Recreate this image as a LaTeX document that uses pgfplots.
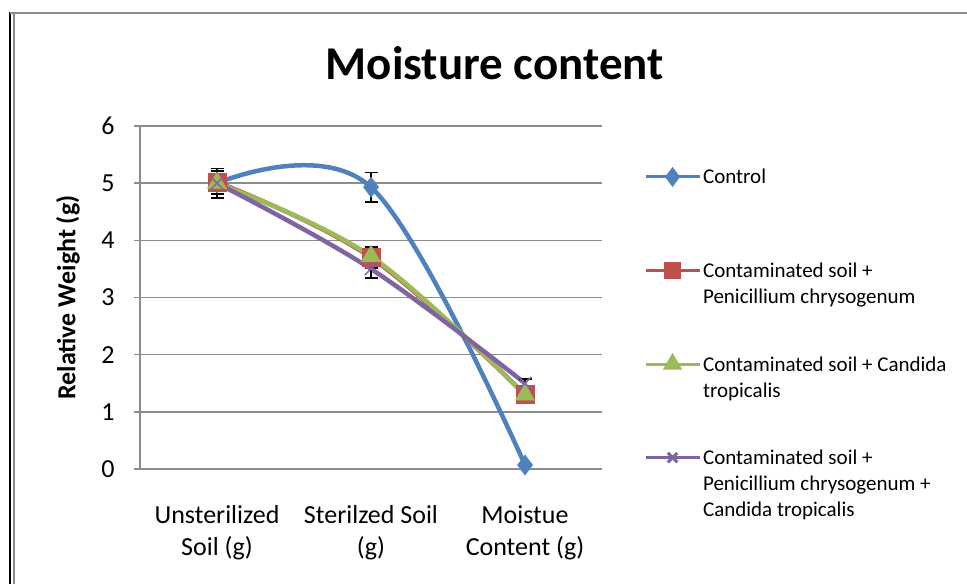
\documentclass[border=0pt]{standalone}
\usepackage{fontspec}
\setmainfont{Carlito}
\usepackage{pgfplots}
\pgfplotsset{compat=1.18}
\definecolor{cBlue}{HTML}{4F81BD}
\definecolor{cRed}{HTML}{C0504D}
\definecolor{cGreen}{HTML}{9BBB59}
\definecolor{cPurple}{HTML}{8064A2}
\definecolor{cGrid}{HTML}{8C8C8C}
\newcommand{\legbox}[1]{\vtop{\baselineskip=26bp #1}}
\begin{document}
\begin{tikzpicture}
\fill[white] (0,0) rectangle (967bp,584bp);
\useasboundingbox (0,0) rectangle (967bp,584bp);
\draw[black, line width=2bp] (10bp,0) -- (10bp,572bp);
\draw[cGrid, line width=2bp] (14bp,0) -- (14bp,571bp);
\draw[cGrid, line width=2bp] (10bp,571bp) -- (967bp,571bp);
\begin{axis}[
  at={(140bp,115bp)}, anchor=south west,
  width=462bp, height=343bp, scale only axis,
  xmin=-0.5, xmax=2.5, ymin=0, ymax=6,
  ytick={0,1,2,3,4,5,6},
  xtick={0,1,2},
  xticklabels={{Unsterilized\\Soil (g)},{Sterilzed Soil\\(g)},{Moistue\\Content (g)}},
  /pgf/number format/assume math mode=true,
  ticklabel style={font=\fontsize{26bp}{32bp}\selectfont},
  xticklabel style={align=center, yshift=-27bp},
  yticklabel style={xshift=-16bp},
  axis x line*=bottom, axis y line*=left,
  axis line style={cGrid, line width=1.5bp, -},
  ymajorgrids, grid style={cGrid, line width=1.5bp},
  tick align=outside, major tick length=6bp,
  ytick style={cGrid, line width=1.5bp},
  xtick style={draw=none},
  title={Moisture content},
  title style={font=\bfseries\fontsize{47bp}{56bp}\selectfont, at={(axis description cs:0.768,1)}, anchor=base, yshift=41bp},
  ylabel={Relative Weight (g)},
  ylabel style={font=\bfseries\fontsize{26bp}{32bp}\selectfont, at={(axis description cs:-0.156,0.5)}, anchor=center},
  legend style={at={(axis description cs:1.089,0.88)}, anchor=north west, draw=none, fill=none,
    font=\fontsize{21bp}{26bp}\selectfont, row sep=25bp, inner sep=0pt,
    cells={anchor=base west}, nodes={text depth=50bp}},
  legend image code/.code={%
    \path (0bp,0bp);
    \draw[line width=3bp, mark repeat=2, mark phase=2, mark options={scale=0.75}] plot coordinates {(0bp,7bp)(27bp,7bp)(54bp,7bp)};},
  every axis plot/.append style={line width=4.5bp, smooth, tension=0.6},
  error bars/error bar style={black, line width=1.5bp},
  error bars/error mark options={black, line width=1.5bp, mark size=6.5bp, rotate=90},
]
\addplot[cBlue, mark=diamond*, mark size=10bp, mark options={fill=cBlue, draw=cBlue, line width=0.5bp},
  error bars/.cd, y dir=both, y explicit]
  coordinates {(0,5.0) +- (0,0.26) (1,4.93) +- (0,0.26) (2,0.07) +- (0,0.02)};
\addlegendentry{\legbox{\hbox{Control}}}
\addplot[cRed, mark=square*, mark size=9bp, mark options={fill=cRed, draw=cRed, line width=0.5bp},
  error bars/.cd, y dir=both, y explicit]
  coordinates {(0,5.02) +- (0,0.2) (1,3.7) +- (0,0.18) (2,1.3) +- (0,0.06)};
\addlegendentry{\legbox{\hbox{Contaminated soil +}\hbox{Penicillium chrysogenum}}}
\addplot[cGreen, mark=triangle*, mark size=11bp, mark options={fill=cGreen, draw=cGreen, line width=0.5bp},
  error bars/.cd, y dir=both, y explicit]
  coordinates {(0,5.0) +- (0,0.2) (1,3.72) +- (0,0.12) (2,1.3) +- (0,0.06)};
\addlegendentry{\legbox{\hbox{Contaminated soil + Candida}\hbox{tropicalis}}}
\addplot[cPurple, mark=x, mark size=9bp, mark options={draw=cPurple, line width=1.5bp},
  error bars/.cd, y dir=both, y explicit]
  coordinates {(0,5.0) +- (0,0.2) (1,3.5) +- (0,0.16) (2,1.5) +- (0,0.07)};
\addlegendentry{\legbox{\hbox{Contaminated soil +}\hbox{Penicillium chrysogenum +}\hbox{Candida tropicalis}}}
\end{axis}
\end{tikzpicture}
\end{document}
